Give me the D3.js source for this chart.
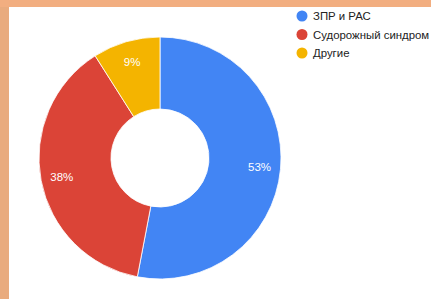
<!DOCTYPE html>
<html>
<head>
<meta charset="utf-8">
<style>
    html, body { margin: 0; padding: 0; }
    body { width: 431px; height: 299px; overflow: hidden; background: #f2ae80; font-family: 'Liberation Sans', Arial, sans-serif; }
</style>
</head>
<body>
<script src="https://d3js.org/d3.v7.min.js"></script>
<script>
    var categories = ['ЗПР и РАС', 'Судорожный синдром', 'Другие'];
    var values = [53, 38, 9];
    var colors = ['#4285f4', '#db4437', '#f4b400'];

    var width = 431, height = 299;
    var cx = 160, cy = 158, outerR = 121, innerR = 49, labelR = 100;

    var svg = d3.select('body').append('svg')
        .attr('width', width)
        .attr('height', height);

    // peach frame on top and left
    svg.append('rect').attr('width', width).attr('height', height).attr('fill', '#f2ae80');
    svg.append('rect').attr('x', 0).attr('y', 7).attr('width', 9).attr('height', height - 7).attr('fill', '#e9ab7e');
    svg.append('rect').attr('x', 9).attr('y', 7).attr('width', width - 9).attr('height', height - 7).attr('fill', '#fff');

    var pie = d3.pie().sort(null).value(d => d);
    var arcs = pie(values);

    var arc = d3.arc().innerRadius(innerR).outerRadius(outerR);
    var labelArc = d3.arc().innerRadius(labelR).outerRadius(labelR);

    var g = svg.append('g').attr('transform', 'translate(' + [cx, cy] + ')');

    g.selectAll('path')
        .data(arcs)
        .enter().append('path')
        .attr('d', arc)
        .attr('fill', (d, i) => colors[i])
        .attr('stroke', '#fff')
        .attr('stroke-width', 0.8);

    var total = d3.sum(values);
    g.selectAll('text')
        .data(arcs)
        .enter().append('text')
        .attr('transform', d => 'translate(' + labelArc.centroid(d) + ')')
        .attr('text-anchor', 'middle')
        .attr('dy', '0.35em')
        .attr('fill', '#fff')
        .attr('font-size', 11.5)
        .text(d => Math.round(d.data / total * 100) + '%');

    var legend = svg.selectAll('g.legend')
        .data(categories)
        .enter().append('g')
        .attr('class', 'legend')
        .attr('transform', (d, i) => 'translate(302,' + (16 + i * 18.5) + ')');
    legend.append('circle')
        .attr('r', 5.5)
        .attr('fill', (d, i) => colors[i]);
    legend.append('text')
        .attr('x', 11)
        .attr('dy', '0.35em')
        .attr('font-size', 11.4)
        .attr('fill', '#222')
        .text(d => d);
</script>
</body>
</html>
